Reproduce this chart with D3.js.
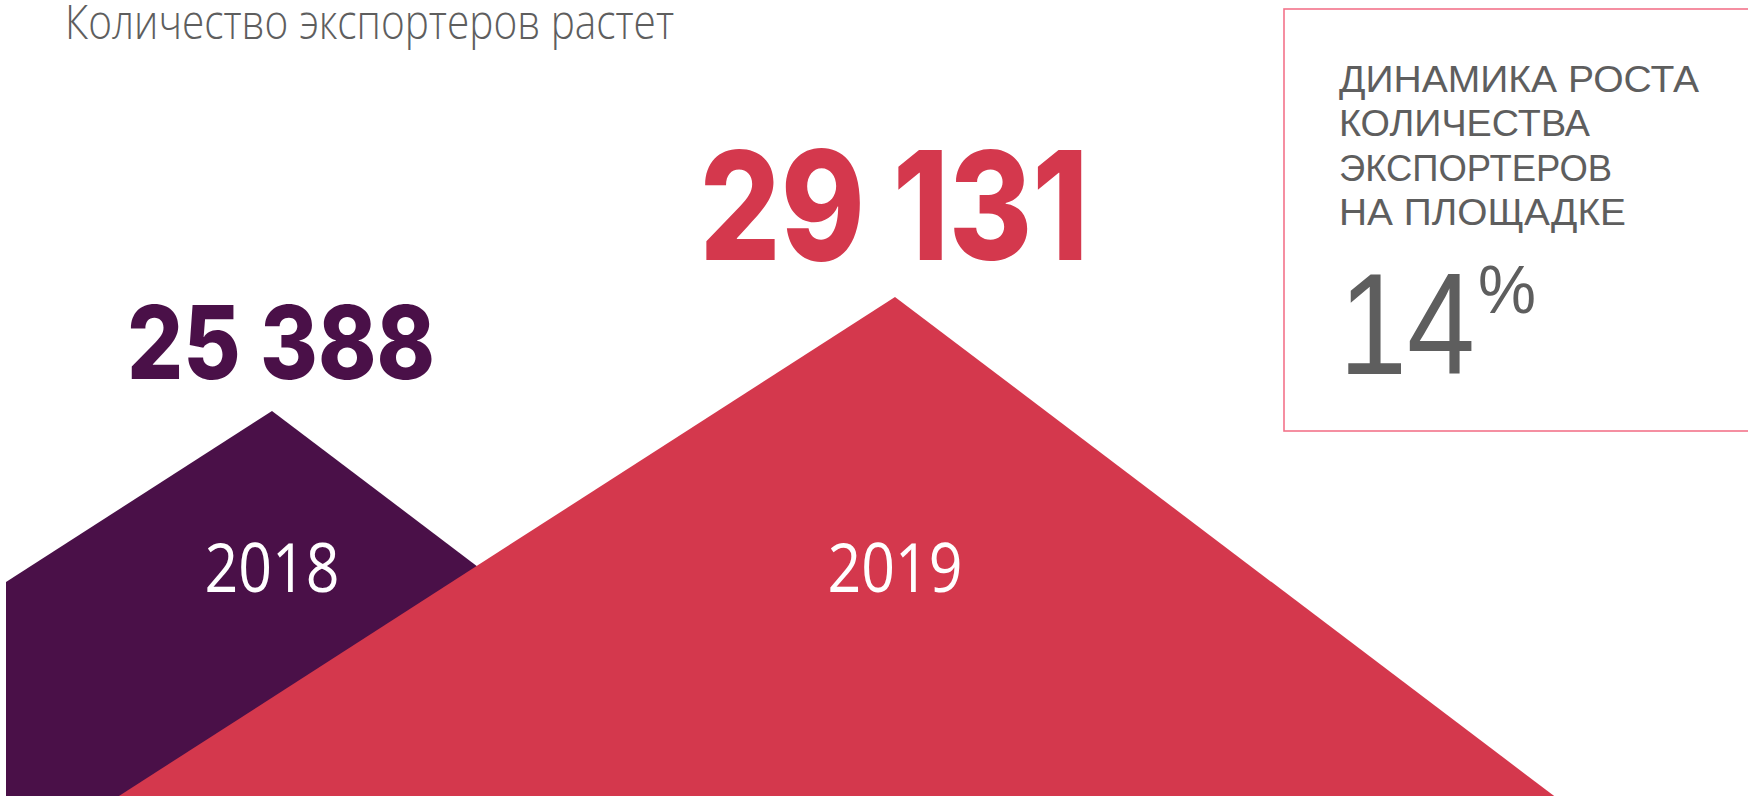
<!DOCTYPE html>
<html lang="ru">
<head>
  <meta charset="UTF-8">
  <title>Количество экспортеров растет</title>
  <style>
    :root {
      --purple: #4a1048;
      --red: #d4384d;
      --grey: #5e5e5e;
      --pink: #f3738a;
    }
    html, body {
      margin: 0;
      padding: 0;
      width: 100%;
      height: 100%;
      background: #fff;
      overflow: hidden;
    }
    svg {
      display: block;
      width: 1748px;
      height: 796px;
    }
  </style>
</head>
<body>
  <svg id="chart"></svg>

  <script src="https://d3js.org/d3.v7.min.js"></script>
  <script>
    // data
    const years = ["2018", "2019"];
    const exporters = [25388, 29131];
    const growthPct = 14;
    const title = "Количество экспортеров растет";
    const boxLines = ["ДИНАМИКА РОСТА", "КОЛИЧЕСТВА", "ЭКСПОРТЕРОВ", "НА ПЛОЩАДКЕ"];

    const css = getComputedStyle(document.documentElement);
    const purple = css.getPropertyValue('--purple').trim();
    const red = css.getPropertyValue('--red').trim();
    const grey = css.getPropertyValue('--grey').trim();
    const pink = css.getPropertyValue('--pink').trim();
    const colors = [purple, red];

    const width = 1748, height = 796;
    const svg = d3.select("#chart").attr("viewBox", `0 0 ${width} ${height}`);

    // scales: peaks of the "mountains"
    const x = d3.scalePoint().domain(years).range([272, 895]);
    const y = d3.scaleLinear().domain([0, d3.max(exporters)]).range([1184, 297]);

    // sides of every mountain share the same slopes (dy/dx)
    const slopeL = 0.643, slopeR = 0.757;

    const defs = svg.append("defs");
    defs.append("clipPath").attr("id", "plot-clip")
      .append("rect").attr("x", 6).attr("y", 0).attr("width", width).attr("height", height);

    const data = years.map((yr, i) => ({ year: yr, value: exporters[i], color: colors[i] }));

    const g = svg.append("g").attr("clip-path", "url(#plot-clip)");
    g.selectAll("path.mountain")
      .data(data)
      .enter()
      .append("path")
      .classed("mountain", true)
      .attr("fill", d => d.color)
      .attr("d", d => {
        const px = x(d.year), py = y(d.value);
        const h = height - py;
        return d3.line()([
          [px - h / slopeL, height],
          [px, py],
          [px + h / slopeR, height]
        ]) + "Z";
      });

    // year labels inside the mountains
    svg.selectAll("text.year")
      .data(data)
      .enter()
      .append("text")
      .classed("year", true)
      .attr("x", d => x(d.year))
      .attr("y", 592)
      .attr("text-anchor", "middle")
      .attr("fill", "#fff")
      .attr("font-family", "'Open Sans', sans-serif")
      .attr("font-weight", 400)
      .attr("font-size", 68)
      .attr("textLength", 135)
      .attr("lengthAdjust", "spacingAndGlyphs")
      .text(d => d.year);

    // value labels above peaks
    const labelSize = [102, 151];
    const labelWidth = [308, 389];
    const labelGap = [32, 37];
    svg.selectAll("text.value")
      .data(data)
      .enter()
      .append("text")
      .classed("value", true)
      .attr("x", (d, i) => x(d.year) + (i === 0 ? 9 : -1))
      .attr("y", (d, i) => y(d.value) - labelGap[i])
      .attr("text-anchor", "middle")
      .attr("fill", d => d.color)
      .attr("font-family", "Inter, 'Open Sans', sans-serif")
      .attr("font-weight", 800)
      .attr("font-size", (d, i) => labelSize[i])
      .attr("textLength", (d, i) => labelWidth[i])
      .attr("lengthAdjust", "spacingAndGlyphs")
      .text(d => d3.format(",")(d.value).replace(",", " "));

    // title
    svg.append("text")
      .attr("x", 65)
      .attr("y", 39)
      .attr("fill", grey)
      .attr("font-family", "'Open Sans', sans-serif")
      .attr("font-weight", 300)
      .attr("font-size", 48)
      .attr("textLength", 609)
      .attr("lengthAdjust", "spacingAndGlyphs")
      .text(title);

    // info box
    svg.append("rect")
      .attr("x", 1284)
      .attr("y", 9)
      .attr("width", 500)
      .attr("height", 422)
      .attr("fill", "none")
      .attr("stroke", pink)
      .attr("stroke-width", 1.6);

    const boxWidths = [360, 251, 273, 287];
    svg.selectAll("text.box-line")
      .data(boxLines)
      .enter()
      .append("text")
      .classed("box-line", true)
      .attr("x", 1339)
      .attr("y", (d, i) => 92 + i * 44.3)
      .attr("fill", grey)
      .attr("font-family", "'Liberation Sans', sans-serif")
      .attr("font-weight", 400)
      .attr("font-size", 36)
      .attr("textLength", (d, i) => boxWidths[i])
      .attr("lengthAdjust", "spacingAndGlyphs")
      .text(d => d);

    svg.append("text")
      .attr("x", 1339)
      .attr("y", 374)
      .attr("fill", grey)
      .attr("font-family", "'Liberation Sans', sans-serif")
      .attr("font-weight", 400)
      .attr("font-size", 144)
      .attr("textLength", 136)
      .attr("lengthAdjust", "spacingAndGlyphs")
      .text(growthPct);

    svg.append("text")
      .attr("x", 1478)
      .attr("y", 313)
      .attr("fill", grey)
      .attr("font-family", "'Liberation Sans', sans-serif")
      .attr("font-weight", 400)
      .attr("font-size", 68)
      .attr("textLength", 58)
      .attr("lengthAdjust", "spacingAndGlyphs")
      .text("%");
  </script>
</body>
</html>
